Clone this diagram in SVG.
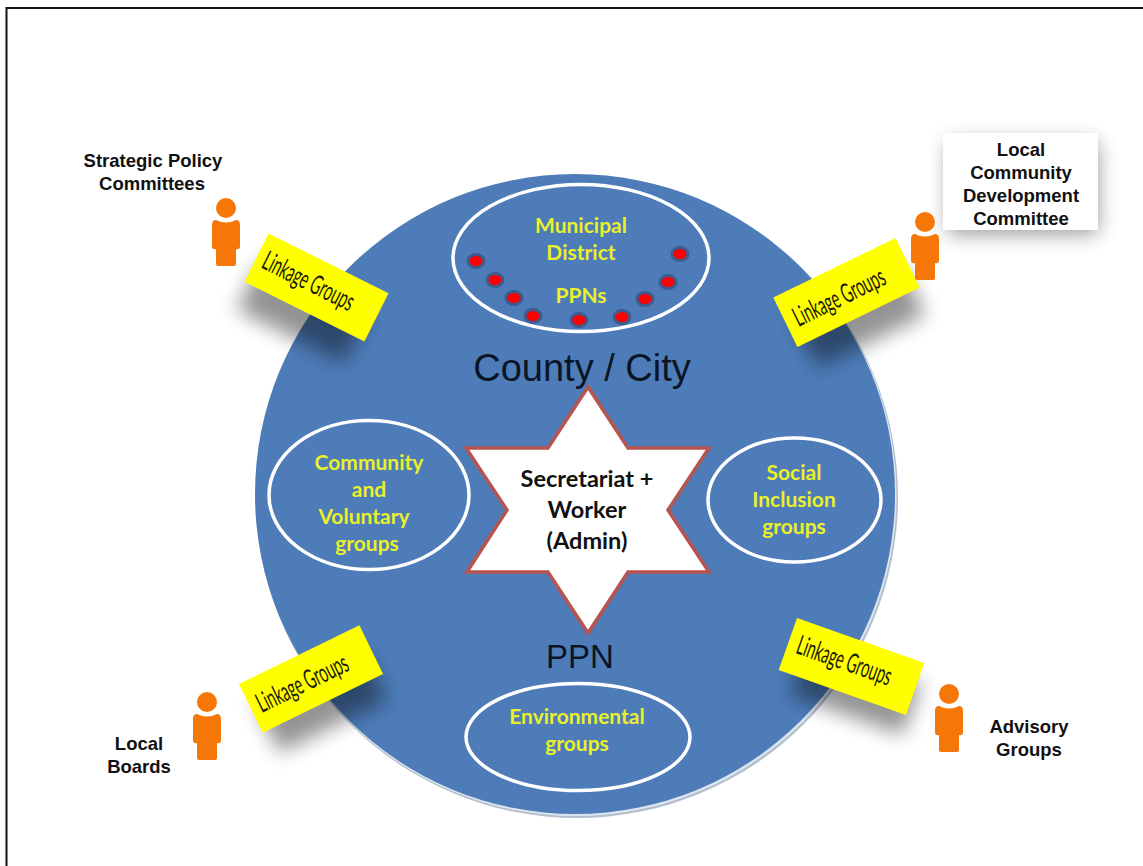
<svg xmlns="http://www.w3.org/2000/svg" width="1143" height="866" viewBox="0 0 1143 866">
<style>
.a{font-family:"Liberation Sans",Arial,sans-serif;font-weight:700;font-size:18.500px;fill:#111;text-anchor:middle}
.y{font-family:Lato,"Open Sans",sans-serif;font-weight:700;font-size:21px;fill:#eaf02a;text-anchor:middle}
.k{font-family:Lato,"Open Sans",sans-serif;font-weight:700;font-size:23.500px;fill:#111;text-anchor:middle}
.big{font-family:"Liberation Sans",Arial,sans-serif;font-size:38px;fill:#0c1526;text-anchor:middle}
.l{font-family:Lato,"Open Sans",sans-serif;font-size:27px;fill:#1a1a00;text-anchor:middle}
.e{fill:none;stroke:#fff;stroke-width:3.5}
.d{fill:#f00;stroke:#3f5a8c;stroke-width:3}
.p{fill:#f57708}
.r{fill:#ff0}
.s{fill:#000;opacity:.42;filter:url(#b)}
</style>
<defs>
<filter id="b" x="-40%" y="-80%" width="180%" height="260%"><feGaussianBlur stdDeviation="10"/></filter>
<g id="person"><circle r="10"/><path d="M-10 12Q0 17 10 12Q14 12 14 17V38Q14 42 10 41V56Q10 58 8 58H-8Q-10 58 -10 56V41Q-14 42 -14 38V17Q-14 12 -10 12Z"/></g>
</defs>
<rect width="1143" height="866" fill="#fff"/>
<path d="M6.500 866V8H1143" fill="none" stroke="#111" stroke-width="2"/>
<g id="connectors"/>
<g id="ppn-circle">
<circle cx="577" cy="497" r="321" fill="#b4bfcc"/>
<circle cx="576" cy="495.500" r="320.500" fill="#dde6f0"/>
<circle cx="575" cy="494" r="320" fill="#4d7cb8"/>
<text class="big" x="582" y="381">County / City</text>
<text class="big" x="580" y="668" style="font-size:33px">PPN</text>
</g>
<g id="municipal-district">
<ellipse class="e" cx="581" cy="258" rx="128" ry="73.500"/>
<text class="y" x="581" y="233">Municipal</text>
<text class="y" x="581" y="260">District</text>
<text class="y" x="581" y="303">PPNs</text>
<ellipse class="d" cx="476" cy="261" rx="8" ry="6.500"/>
<ellipse class="d" cx="495" cy="280" rx="8" ry="6.500"/>
<ellipse class="d" cx="514" cy="298" rx="8" ry="6.500"/>
<ellipse class="d" cx="533" cy="316" rx="8" ry="6.500"/>
<ellipse class="d" cx="579" cy="320" rx="8" ry="6.500"/>
<ellipse class="d" cx="622" cy="317" rx="8" ry="6.500"/>
<ellipse class="d" cx="645" cy="299" rx="8" ry="6.500"/>
<ellipse class="d" cx="668" cy="282" rx="8" ry="6.500"/>
<ellipse class="d" cx="680" cy="254" rx="8" ry="6.500"/>
</g>
<g id="community">
<ellipse class="e" cx="369" cy="495" rx="100" ry="74.500"/>
<text class="y" x="369" y="470">Community</text>
<text class="y" x="369" y="497">and</text>
<text class="y" x="364" y="524">Voluntary</text>
<text class="y" x="367" y="551">groups</text>
</g>
<g id="social-inclusion">
<ellipse class="e" cx="794.500" cy="500" rx="86.500" ry="62"/>
<text class="y" x="794" y="480">Social</text>
<text class="y" x="794" y="507">Inclusion</text>
<text class="y" x="794" y="534">groups</text>
</g>
<g id="environmental">
<ellipse class="e" cx="578" cy="737" rx="112" ry="53.500"/>
<text class="y" x="577" y="724">Environmental</text>
<text class="y" x="577" y="751">groups</text>
</g>
<g id="secretariat">
<path d="M588 387L628 448H709L668 510L709 572H628L588 633L548 572H467L507 510L466 448H548Z" fill="#fff" stroke="#b85450" stroke-width="3.500" stroke-linejoin="miter"/>
<text class="k" x="587" y="487">Secretariat +</text>
<text class="k" x="587" y="518">Worker</text>
<text class="k" x="587" y="549">(Admin)</text>
</g>
<g id="linkage-tl">
<rect class="s" x="-60" y="-20" width="120" height="55" transform="translate(306 305) rotate(26.500)"/>
<g transform="translate(316.500 287.500) rotate(26.500)"><rect class="r" x="-67" y="-27" width="134" height="54"/><text class="l" transform="scale(.54 1)" x="-18" y="7">Linkage Groups</text></g>
</g>
<g id="linkage-tr">
<rect class="s" x="-60" y="-20" width="120" height="55" transform="translate(856 310) rotate(-26)"/>
<g transform="translate(846.500 292.500) rotate(-26)"><rect class="r" x="-68" y="-27.500" width="136" height="55"/><text class="l" transform="scale(.54 1)" x="-16" y="10">Linkage Groups</text></g>
</g>
<g id="linkage-bl">
<rect class="s" x="-60" y="-20" width="120" height="55" transform="translate(318 695) rotate(-26)"/>
<g transform="translate(311 679) rotate(-26)"><rect class="r" x="-67" y="-27" width="134" height="54"/><text class="l" transform="scale(.54 1)" x="-18" y="9">Linkage Groups</text></g>
</g>
<g id="linkage-br">
<rect class="s" x="-60" y="-20" width="120" height="55" transform="translate(858 682) rotate(19.500)"/>
<g transform="translate(851.500 666.500) rotate(19.500)"><rect class="r" x="-67.500" y="-27.500" width="135" height="55"/><text class="l" transform="scale(.54 1)" x="-16" y="6">Linkage Groups</text></g>
</g>
<g id="strategic-policy">
<use href="#person" class="p" x="226" y="208"/>
<text class="a" x="153" y="167">Strategic Policy</text>
<text class="a" x="152" y="190">Committees</text>
</g>
<g id="lcdc">
<rect x="948" y="142" width="150" height="92" fill="#000" opacity=".4" filter="url(#b)"/>
<rect x="943" y="133" width="155" height="97" fill="#fff"/>
<use href="#person" class="p" x="925" y="222"/>
<text class="a" x="1021" y="156">Local</text>
<text class="a" x="1021" y="179">Community</text>
<text class="a" x="1021" y="202">Development</text>
<text class="a" x="1021" y="225">Committee</text>
</g>
<g id="local-boards">
<use href="#person" class="p" x="207" y="702"/>
<text class="a" x="139" y="750">Local</text>
<text class="a" x="139" y="773">Boards</text>
</g>
<g id="advisory">
<use href="#person" class="p" x="949" y="694"/>
<text class="a" x="1029" y="733">Advisory</text>
<text class="a" x="1029" y="756">Groups</text>
</g>
</svg>
